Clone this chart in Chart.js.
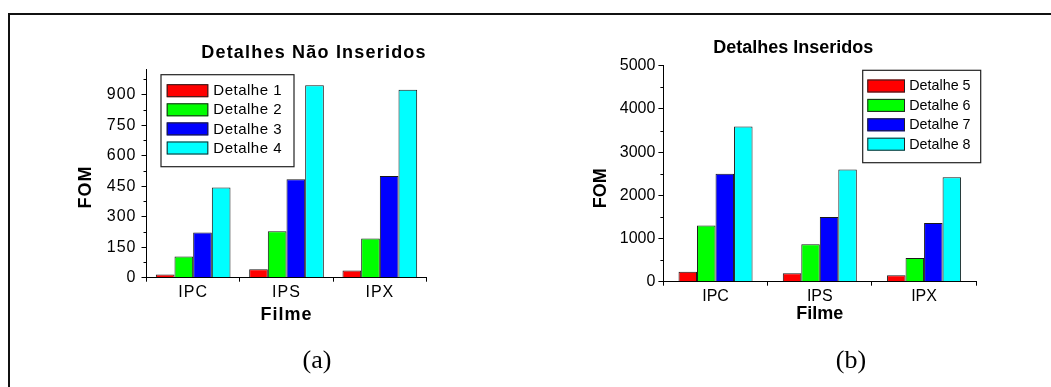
<!DOCTYPE html>
<html><head><meta charset="utf-8">
<script src="https://cdn.jsdelivr.net/npm/chart.js@4.4.1/dist/chart.umd.min.js"></script>
<style>
html,body{margin:0;padding:0;background:#fff;}
body{width:1051px;height:387px;position:relative;overflow:hidden;}
#frame{position:absolute;left:8px;top:13px;width:1043px;height:374px;border-top:2px solid #111;border-left:2px solid #111;box-sizing:border-box;}
canvas{position:absolute;top:0;}
#cl{left:0;} #cr{left:525px;}
.cap{position:absolute;width:100px;text-align:center;font-family:"Liberation Serif","Times New Roman",serif;font-size:26px;line-height:30px;color:#000;}
</style></head>
<body>
<div id="frame"></div>
<canvas id="cl" width="525" height="387"></canvas>
<canvas id="cr" width="526" height="387"></canvas>
<div class="cap" style="left:267px;top:345px;">(a)</div>
<div class="cap" style="left:801px;top:345px;">(b)</div>
<script>
// ---- data ----
const categories = ['IPC', 'IPS', 'IPX'];
const leftSeriesNames = ['Detalhe 1', 'Detalhe 2', 'Detalhe 3', 'Detalhe 4'];
const rightSeriesNames = ['Detalhe 5', 'Detalhe 6', 'Detalhe 7', 'Detalhe 8'];
const detalhe1 = [16, 42, 35];
const detalhe2 = [104, 228, 193];
const detalhe3 = [222, 484, 500];
const detalhe4 = [444, 947, 925];
const detalhe5 = [230, 197, 150];
const detalhe6 = [1300, 865, 550];
const detalhe7 = [2497, 1495, 1360];
const detalhe8 = [3595, 2600, 2420];
const leftYTicks = [0, 150, 300, 450, 600, 750, 900];
const leftYMinorTicks = [75, 225, 375, 525, 675, 825, 975];
const rightYTicks = [0, 1000, 2000, 3000, 4000, 5000];
const rightYMinorTicks = [500, 1500, 2500, 3500, 4500];
const leftTitle = 'Detalhes Não Inseridos';
const rightTitle = 'Detalhes Inseridos';
const xTitle = 'Filme';
const yTitle = 'FOM';

// ---- styles ----
const FONT = 'Arial, "Liberation Sans", sans-serif';
const fills = ['#ff0000', '#00ff00', '#0000ff', '#00ffff'];

const spacingPlugin = {
  id: 'spacing',
  beforeDraw(chart, args, opts) { chart.ctx.letterSpacing = opts.value || '0px'; }
};

const minorTicksPlugin = {
  id: 'minorTicks',
  afterDraw(chart, args, opts) {
    const y = chart.scales.y, ctx = chart.ctx;
    ctx.save();
    ctx.strokeStyle = '#000'; ctx.lineWidth = 1;
    ctx.beginPath();
    opts.values.forEach(v => {
      const py = Math.round(y.getPixelForValue(v)) + 0.5;
      ctx.moveTo(y.right - opts.length, py); ctx.lineTo(y.right, py);
    });
    ctx.stroke();
    ctx.restore();
  }
};

const freeTextPlugin = {
  id: 'freeText',
  afterDraw(chart, args, opts) {
    const ctx = chart.ctx;
    opts.items.forEach(it => {
      ctx.save();
      ctx.letterSpacing = it.spacing || '0px';
      ctx.font = it.font; ctx.fillStyle = '#000';
      ctx.textAlign = 'center'; ctx.textBaseline = 'middle';
      ctx.translate(it.x, it.y);
      if (it.rotate) ctx.rotate(it.rotate);
      ctx.fillText(it.text, 0, 0);
      ctx.restore();
    });
  }
};

const boxLegendPlugin = {
  id: 'boxLegend',
  afterDraw(chart, args, o) {
    const ctx = chart.ctx;
    ctx.save();
    ctx.fillStyle = '#fff';
    ctx.fillRect(o.x, o.y, o.w, o.h);
    ctx.strokeStyle = '#222'; ctx.lineWidth = 1.2;
    ctx.strokeRect(o.x, o.y, o.w, o.h);
    ctx.letterSpacing = o.spacing || '0px';
    chart.data.datasets.forEach((ds, i) => {
      const cy = o.rowY + i * o.rowStep;
      ctx.fillStyle = ds.backgroundColor;
      ctx.fillRect(o.swX, cy - o.swH / 2, o.swW, o.swH);
      ctx.lineWidth = 1; ctx.strokeStyle = '#222';
      ctx.strokeRect(o.swX + 0.5, cy - o.swH / 2 + 0.5, o.swW - 1, o.swH - 1);
      ctx.fillStyle = '#000'; ctx.font = o.font;
      ctx.textAlign = 'left'; ctx.textBaseline = 'middle';
      ctx.fillText(ds.label, o.textX, cy + 0.5);
    });
    ctx.restore();
  }
};

function makeDatasets(names, series) {
  return names.map((n, i) => ({
    label: n, data: series[i],
    backgroundColor: fills[i], borderColor: '#1a1a1a', borderWidth: 1,
    borderSkipped: 'start'
  }));
}

function makeChart(id, cfg) {
  return new Chart(document.getElementById(id), {
    type: 'bar',
    data: { labels: categories, datasets: makeDatasets(cfg.names, cfg.series) },
    plugins: [spacingPlugin, minorTicksPlugin, freeTextPlugin, boxLegendPlugin],
    options: {
      responsive: false, animation: false,
      layout: { padding: cfg.padding },
      datasets: { bar: { categoryPercentage: cfg.catPct, barPercentage: 1 } },
      scales: {
        x: {
          afterFit: s => { s.height = cfg.xHeight; },
          grid: { drawOnChartArea: false, tickLength: 4, color: '#000', tickColor: '#000' },
          border: { color: '#000', width: 1 },
          ticks: { color: '#000', font: { family: FONT, size: 16 }, padding: 1 },
          title: { display: true, text: xTitle, color: '#000', padding: 0,
                   font: { family: FONT, size: 18, weight: 'bold' } }
        },
        y: {
          min: 0, max: cfg.yMax,
          afterBuildTicks: s => { s.ticks = cfg.yTicks.map(v => ({ value: v })); },
          afterFit: s => { s.width = cfg.yWidth; },
          grid: { drawOnChartArea: false, tickLength: 5, color: '#000', tickColor: '#000' },
          border: { color: '#000', width: 1 },
          ticks: { color: '#000', font: { family: FONT, size: 16 }, padding: cfg.yPad,
                   callback: v => String(v) }
        }
      },
      plugins: {
        legend: { display: false },
        tooltip: { enabled: false },
        spacing: { value: cfg.spacing },
        minorTicks: { values: cfg.minor, length: 3 },
        freeText: { items: cfg.texts },
        boxLegend: cfg.legend
      }
    }
  });
}

makeChart('cl', {
  names: leftSeriesNames, series: [detalhe1, detalhe2, detalhe3, detalhe4],
  padding: { left: 0, right: 98.5, top: 69.3, bottom: 61.2 },
  xHeight: 48.1, yWidth: 146.5, yMax: 1025, yTicks: leftYTicks, minor: leftYMinorTicks,
  yPad: 5, catPct: 0.8, spacing: '1px',
  texts: [
    { text: leftTitle, x: 314, y: 53, font: 'bold 18px ' + FONT, spacing: '1.2px' },
    { text: yTitle, x: 86, y: 187, font: 'bold 18px ' + FONT, spacing: '1px', rotate: -Math.PI / 2 }
  ],
  legend: { x: 161, y: 74.7, w: 133, h: 92, swX: 166.7, swW: 41.6, swH: 13,
            rowY: 90.7, rowStep: 19.1, textX: 213.3, font: '15px ' + FONT, spacing: '0.5px' }
});

makeChart('cr', {
  names: rightSeriesNames, series: [detalhe5, detalhe6, detalhe7, detalhe8],
  padding: { left: 0, right: 74.8, top: 65.7, bottom: 61.9 },
  xHeight: 43.4, yWidth: 138.4, yMax: 5000, yTicks: rightYTicks, minor: rightYMinorTicks,
  yPad: 3, catPct: 0.71, spacing: '0px',
  texts: [
    { text: rightTitle, x: 268.3, y: 48.3, font: 'bold 18px ' + FONT },
    { text: yTitle, x: 76, y: 188.3, font: 'bold 18px ' + FONT, rotate: -Math.PI / 2 }
  ],
  legend: { x: 337.7, y: 70.3, w: 118, h: 92.4, swX: 342.3, swW: 37.7, swH: 13,
            rowY: 86, rowStep: 19.4, textX: 384.3, font: '14.3px ' + FONT }
});
</script>
</body></html>
